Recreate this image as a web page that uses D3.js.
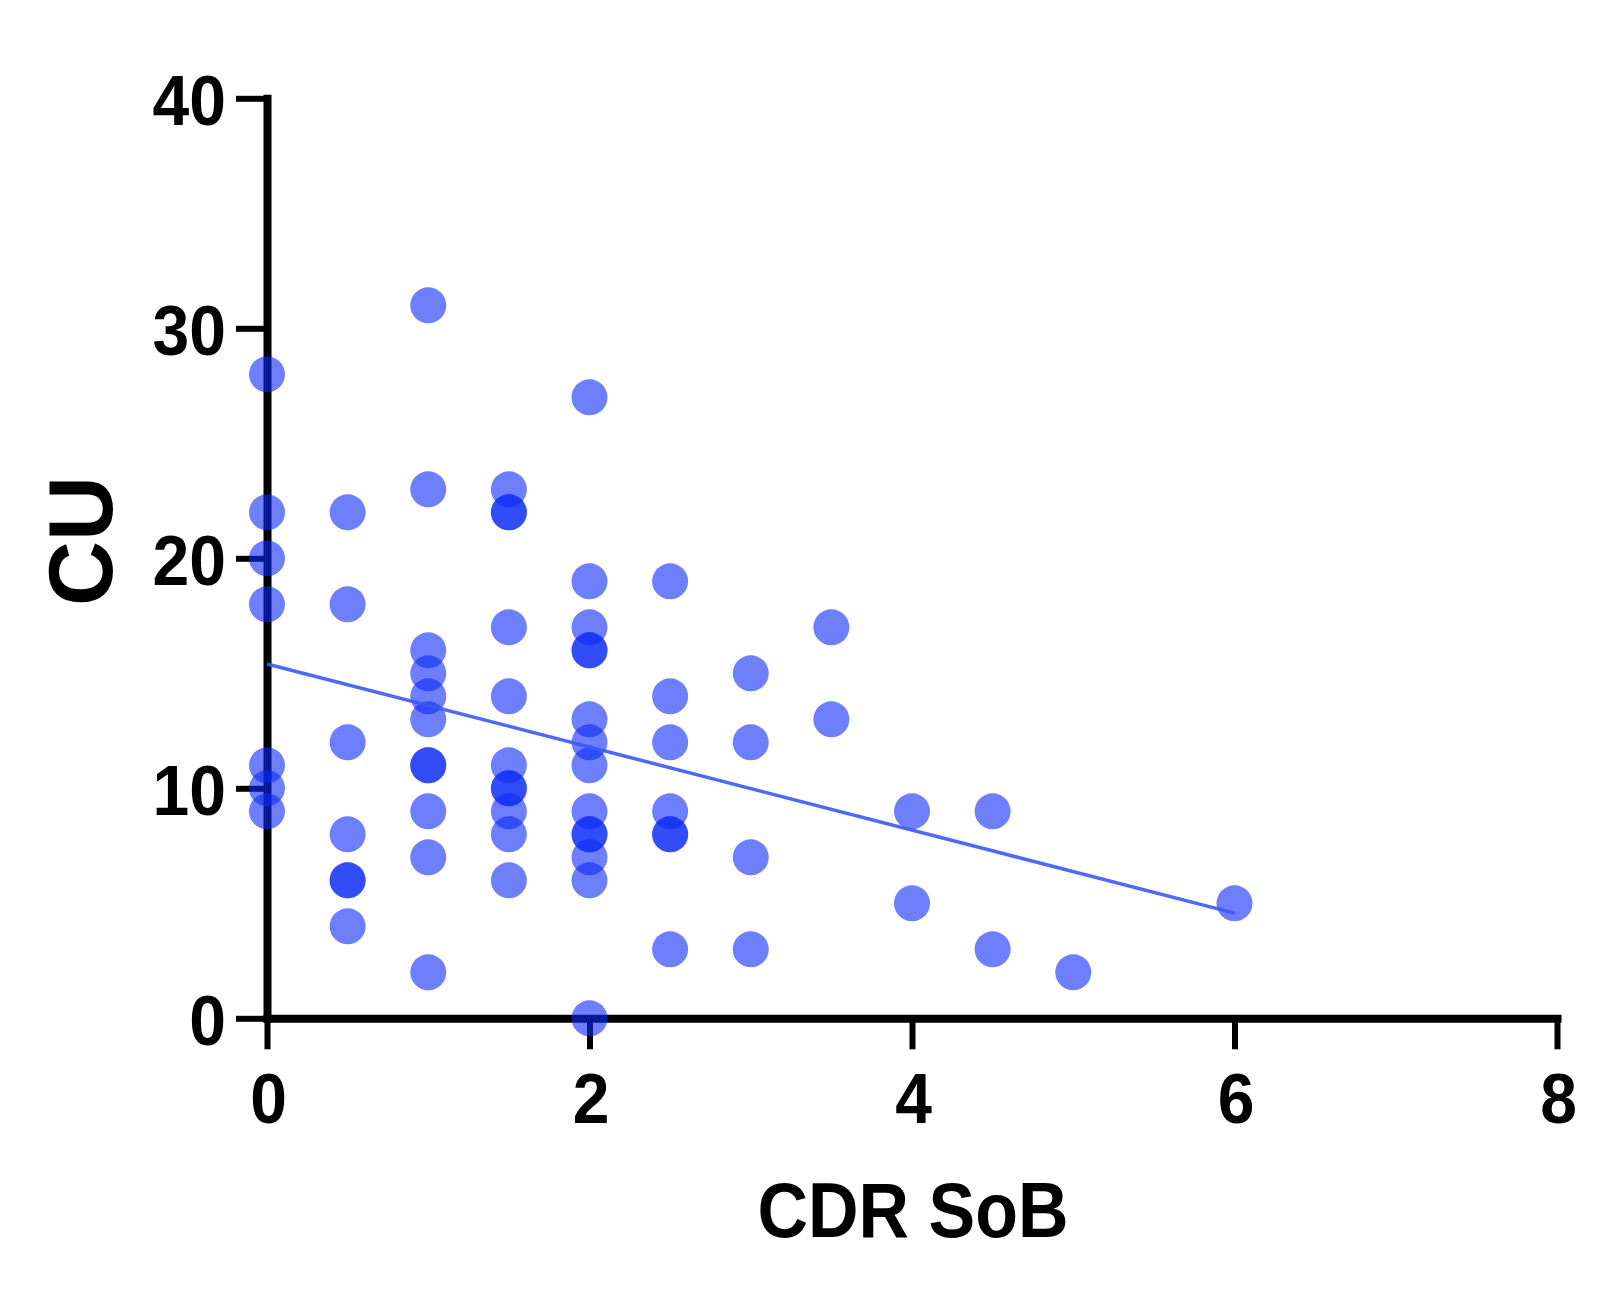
<!DOCTYPE html>
<html>
<head>
<meta charset="utf-8">
<script src="https://cdn.jsdelivr.net/npm/d3@7"></script>
<style>
  html, body { margin: 0; padding: 0; background: #ffffff; }
  svg { display: block; }
  text { font-family: "Liberation Sans", Arial, Helvetica, sans-serif; font-weight: bold; fill: #000; }
</style>
</head>
<body>
<svg id="chart" width="1613" height="1299"></svg>
<script>
// ---- data ----
const cdrSob = [
  0, 0, 0, 0, 0, 0, 0,
  0.5, 0.5, 0.5, 0.5, 0.5, 0.5, 0.5,
  1, 1, 1, 1, 1, 1, 1, 1, 1, 1, 1,
  1.5, 1.5, 1.5, 1.5, 1.5, 1.5, 1.5, 1.5, 1.5, 1.5, 1.5,
  2, 2, 2, 2, 2, 2, 2, 2, 2, 2, 2, 2, 2, 2,
  2.5, 2.5, 2.5, 2.5, 2.5, 2.5, 2.5,
  3, 3, 3, 3,
  3.5, 3.5,
  4, 4,
  4.5, 4.5,
  5,
  6
];
const cu = [
  28, 22, 20, 18, 11, 10, 9,
  22, 18, 12, 8, 6, 6, 4,
  31, 23, 16, 15, 14, 13, 11, 11, 9, 7, 2,
  23, 22, 22, 17, 14, 11, 10, 10, 9, 8, 6,
  27, 19, 17, 16, 16, 13, 12, 11, 9, 8, 8, 7, 6, 0,
  19, 14, 12, 9, 8, 8, 3,
  15, 12, 7, 3,
  17, 13,
  9, 5,
  9, 3,
  2,
  5
];
const xTicks = [0, 2, 4, 6, 8];
const yTicks = [0, 10, 20, 30, 40];
const xTitle = "CDR SoB";
const yTitle = "CU";

// ---- layout ----
const svg = d3.select("#chart");
const x = d3.scaleLinear().domain([0, 8]).range([267, 1557]);
const y = d3.scaleLinear().domain([0, 40]).range([1018.3, 98.3]);

const dotColor = "rgb(12,42,246)";
const lineColor = "rgb(60,88,246)";

// ---- axes ----
const gx = svg.append("g")
  .attr("transform", `translate(0,${y(0)})`)
  .call(d3.axisBottom(x).tickValues(xTicks).tickSize(31).tickSizeOuter(0).tickFormat(d3.format("d")));
const gy = svg.append("g")
  .attr("transform", `translate(${x(0)},0)`)
  .call(d3.axisLeft(y).tickValues(yTicks).tickSize(31).tickSizeOuter(0).tickFormat(d3.format("d")));

[gx, gy].forEach(g => {
  g.select(".domain").attr("stroke", "#000").attr("stroke-width", 8).attr("stroke-linecap", "square");
  g.selectAll(".tick line").attr("stroke", "#000").attr("stroke-width", 6);
  g.attr("font-family", null).attr("font-size", null);
});

gx.selectAll(".tick text")
  .attr("x", 0).attr("y", 0).attr("dy", null)
  .attr("text-anchor", "middle")
  .style("font-size", "66px")
  .attr("transform", "translate(1,105) scale(1,1.08)");

gy.selectAll(".tick text")
  .attr("x", 0).attr("y", 0).attr("dy", null)
  .attr("text-anchor", "end")
  .style("font-size", "66px")
  .attr("transform", "translate(-41,26) scale(1,1.08)");

// ---- titles ----
svg.append("text")
  .attr("text-anchor", "middle")
  .style("font-size", "70px")
  .attr("transform", `translate(${(x(0) + x(8)) / 2 + 1},1237) scale(1,1.12)`)
  .text(xTitle);

svg.append("text")
  .attr("text-anchor", "middle")
  .style("font-size", "90px")
  .attr("transform", "translate(112,541) rotate(-90)")
  .text(yTitle);

// ---- points ----
const pts = cdrSob.map((d, i) => ({ x: d, y: cu[i] }));
svg.append("g")
  .selectAll("circle")
  .data(pts)
  .join("circle")
  .attr("cx", d => x(d.x))
  .attr("cy", d => y(d.y))
  .attr("r", 18)
  .attr("fill", dotColor)
  .attr("fill-opacity", 0.6);

// ---- linear regression line ----
const mx = d3.mean(cdrSob), my = d3.mean(cu);
const sxy = d3.sum(pts, d => (d.x - mx) * (d.y - my));
const sxx = d3.sum(pts, d => (d.x - mx) * (d.x - mx));
const slope = sxy / sxx, intercept = my - slope * mx;
const ext = d3.extent(cdrSob);
const fit = ext.map(v => ({ x: v, y: intercept + slope * v }));
svg.append("path")
  .datum(fit)
  .attr("fill", "none")
  .attr("stroke", lineColor)
  .attr("stroke-opacity", 0.9)
  .attr("stroke-width", 3.5)
  .attr("d", d3.line().x(d => x(d.x)).y(d => y(d.y)));
</script>
</body>
</html>
